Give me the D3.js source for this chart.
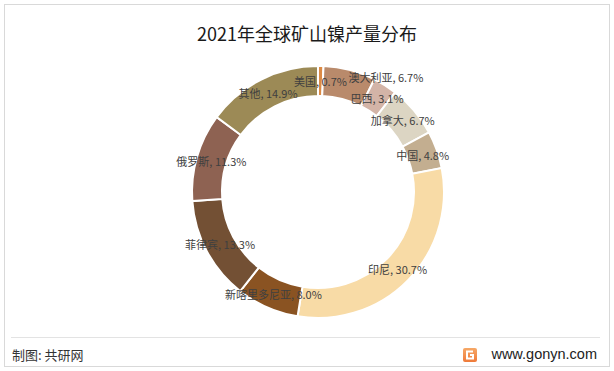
<!DOCTYPE html>
<html lang="zh-CN">
<head>
    <meta charset="UTF-8">
    <title>2021年全球矿山镍产量分布</title>
    <script src="https://d3js.org/d3.v7.min.js"></script>
    <style>
        body {
            margin: 0;
            background: #fff;
            font-family: "Noto Sans CJK SC", "Microsoft YaHei", sans-serif;
        }
        svg text {
            font-family: "Noto Sans CJK SC", sans-serif;
        }
    </style>
</head>
<body>
    <div id="chart"></div>

    <script>
        // 数据
        const countries = ["美国", "澳大利亚", "巴西", "加拿大", "中国", "印尼", "新喀里多尼亚", "菲律宾", "俄罗斯", "其他"];
        const shares = [0.7, 6.7, 3.1, 6.7, 4.8, 30.7, 8.0, 13.3, 11.3, 14.9];
        const colors = ["#dc8a45", "#b98a6b", "#d3b4a7", "#dcd5c3", "#c3ae90", "#f8dba6", "#8a5322", "#735034", "#8e6252", "#9c8a56"];

        const width = 614;
        const height = 371;
        const cx = 318, cy = 192;
        const outerR = 126, innerR = 96;

        const svg = d3.select("#chart")
            .append("svg")
            .attr("width", width)
            .attr("height", height);

        // 外框
        svg.append("rect")
            .attr("x", 4.5).attr("y", 4.5)
            .attr("width", 605).attr("height", 362)
            .attr("fill", "#fff")
            .attr("stroke", "#d9d9d9");

        svg.append("text")
            .attr("x", 307)
            .attr("y", 33)
            .attr("text-anchor", "middle")
            .attr("dominant-baseline", "central")
            .style("font-size", "18px")
            .style("fill", "#1a1a1a")
            .text("2021年全球矿山镍产量分布");

        const data = countries.map((name, i) => ({ name, value: shares[i], color: colors[i] }));

        const pie = d3.pie().sort(null).value(d => d.value);
        const arc = d3.arc().innerRadius(innerR).outerRadius(outerR);
        const labelArc = d3.arc().innerRadius((innerR + outerR) / 2).outerRadius((innerR + outerR) / 2);

        const g = svg.append("g").attr("transform", `translate(${cx},${cy})`);

        const arcs = pie(data);

        g.selectAll("path")
            .data(arcs)
            .enter()
            .append("path")
            .attr("d", arc)
            .attr("fill", d => d.data.color)
            .attr("stroke", "#fff")
            .attr("stroke-width", 2);

        // 澳大利亚标签被挪开以避免与美国重叠
        const nudge = { "澳大利亚": [40, -8] };

        g.selectAll(".label")
            .data(arcs)
            .enter()
            .append("text")
            .attr("class", "label")
            .attr("transform", d => {
                const [x, y] = labelArc.centroid(d);
                const n = nudge[d.data.name] || [0, 0];
                return `translate(${x + n[0]},${y + n[1]})`;
            })
            .attr("text-anchor", "middle")
            .attr("dominant-baseline", "central")
            .style("font-size", "11px")
            .style("fill", "#404040")
            .text(d => `${d.data.name}, ${d.data.value.toFixed(1)}%`);

        // 底部
        svg.append("line")
            .attr("x1", 11).attr("x2", 600)
            .attr("y1", 337.5).attr("y2", 337.5)
            .attr("stroke", "#e3e3e3");

        svg.append("text")
            .attr("x", 12)
            .attr("y", 354)
            .attr("dominant-baseline", "central")
            .style("font-size", "13px")
            .style("fill", "#333")
            .text("制图: 共研网");

        const grad = svg.append("defs").append("linearGradient")
            .attr("id", "logo").attr("x1", 0).attr("y1", 0).attr("x2", 0).attr("y2", 1);
        grad.append("stop").attr("offset", "0%").attr("stop-color", "#f6a867");
        grad.append("stop").attr("offset", "100%").attr("stop-color", "#ef7a3a");

        svg.append("rect")
            .attr("x", 463).attr("y", 348)
            .attr("width", 14).attr("height", 14)
            .attr("rx", 2)
            .attr("fill", "url(#logo)");
        svg.append("path")
            .attr("d", "M473,351.5 H467 V358.5 H473 V355 H470")
            .attr("fill", "none")
            .attr("stroke", "#fff")
            .attr("stroke-width", 2);

        svg.append("text")
            .attr("x", 597)
            .attr("y", 354)
            .attr("text-anchor", "end")
            .attr("dominant-baseline", "central")
            .style("font-family", "Arial, 'Liberation Sans', sans-serif")
            .style("font-size", "14.5px")
            .style("fill", "#222")
            .text("www.gonyn.com");
    </script>
</body>
</html>
